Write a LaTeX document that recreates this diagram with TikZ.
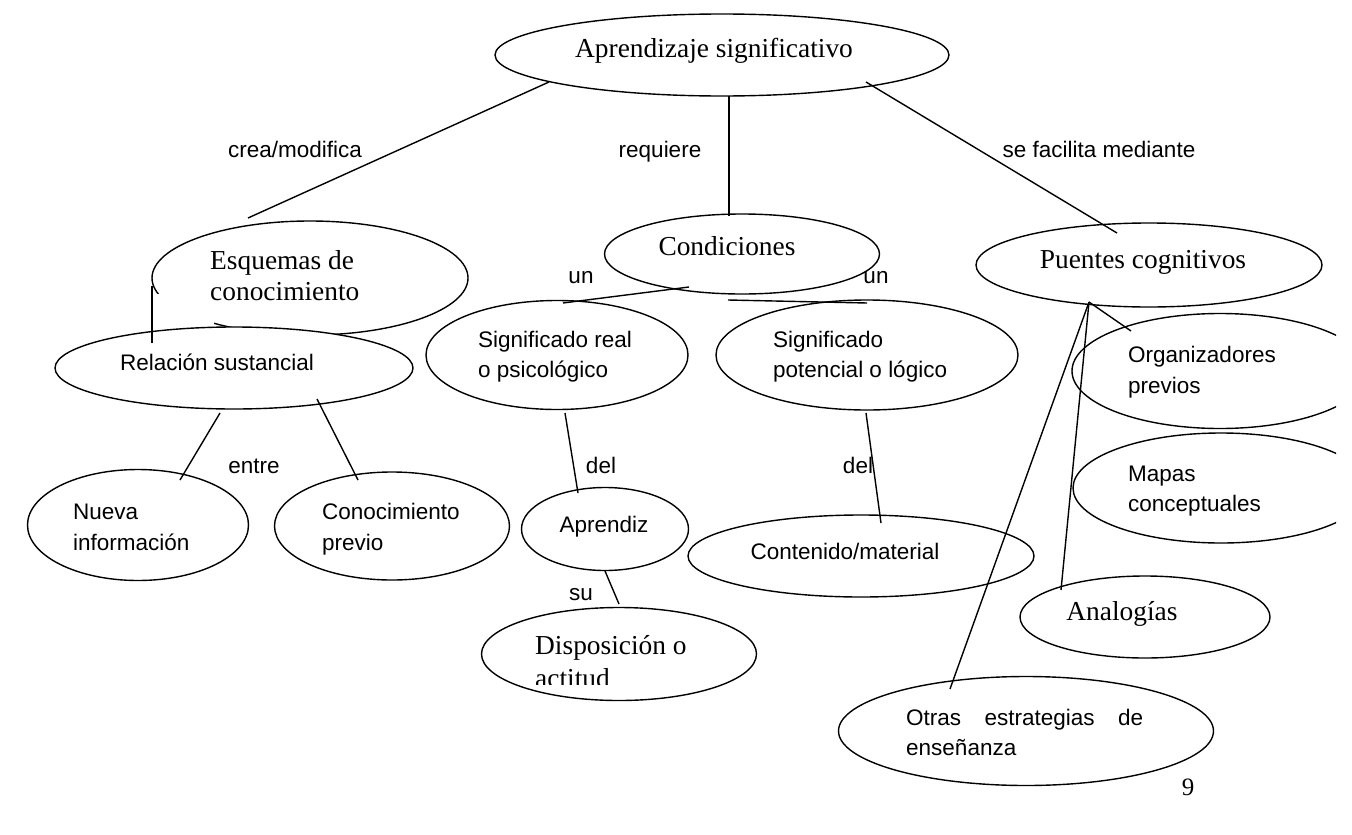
\documentclass[tikz,border=0pt]{standalone}
\usepackage{fontspec}
\setmainfont{Liberation Serif}
\setsansfont{Liberation Sans}
\usetikzlibrary{shapes.geometric}
\tikzset{
  ell/.style={draw, ellipse, line width=1.4pt, inner sep=0pt, fill=white},
  srf/.style={font=\fontsize{27.4}{31}\selectfont, inner sep=0pt},
  sns/.style={font=\sffamily\fontsize{22.5}{31}\selectfont, inner sep=0pt},
  conn/.style={line width=1.4pt},
  vconn/.style={line width=1.9pt},
}
\begin{document}
\begin{tikzpicture}[x=1pt,y=-1pt]
\useasboundingbox (0,0) rectangle (1352,835);
\clip (0,0) rectangle (1352,835);
\fill[white] (0,0) rectangle (1352,835);

% ellipses
\node[ell, minimum width=454pt, minimum height=82pt] (apr) at (722,55) {};
\node[ell, minimum width=316pt, minimum height=114pt] (esq) at (310,278) {};
\fill[white] (155,294) rectangle (214,326);
\node[ell, minimum width=358pt, minimum height=82pt] (rel) at (234,368) {};
\node[ell, minimum width=275pt, minimum height=80pt] (cond) at (742,254) {};
\node[ell, minimum width=346pt, minimum height=84pt] (pue) at (1149,265) {};
\node[ell, minimum width=262pt, minimum height=109pt] (sreal) at (557,355) {};
\node[ell, minimum width=302pt, minimum height=110pt] (spot) at (867,355) {};
\begin{scope}
  \clip (0,0) rectangle (1336,835);
  \node[ell, minimum width=296pt, minimum height=115pt] (org) at (1220,371) {};
  \node[ell, minimum width=296pt, minimum height=110pt] (mapas) at (1221,488) {};
\end{scope}
\node[ell, minimum width=250pt, minimum height=82pt] (anal) at (1145,617) {};
\node[ell, minimum width=375pt, minimum height=109pt] (otras) at (1026,731) {};
\node[ell, minimum width=221pt, minimum height=111pt] (nueva) at (138,525) {};
\node[ell, minimum width=235pt, minimum height=108pt] (conoc) at (392,526) {};
\node[ell, minimum width=167pt, minimum height=83pt] (aprz) at (605,529) {};
\node[ell, minimum width=346pt, minimum height=82pt] (cont) at (861,556) {};
\node[ell, minimum width=275pt, minimum height=93pt] (disp) at (619,654) {};

% connector end points
\coordinate (c1a) at (549,82);   \coordinate (c1b) at (248,218);
\coordinate (c2a) at (729,96);   \coordinate (c2b) at (729,216);
\coordinate (c3a) at (866,82);   \coordinate (c3b) at (1117,233);
\coordinate (c4a) at (152,286);  \coordinate (c4b) at (152,343);
\coordinate (c5a) at (689,287);  \coordinate (c5b) at (563,303);
\coordinate (c6a) at (728,300);  \coordinate (c6b) at (867,303);
\coordinate (c7a) at (565,413);  \coordinate (c7b) at (578,493);
\coordinate (c8a) at (605,571);  \coordinate (c8b) at (619,604);
\coordinate (c9a) at (866,413);  \coordinate (c9b) at (881,523);
\coordinate (c10a) at (220,413); \coordinate (c10b) at (180,480);
\coordinate (c11a) at (317,399); \coordinate (c11b) at (358,480);
\coordinate (pap) at (1089,302);
\coordinate (c12b) at (1131,331);
\coordinate (c13b) at (1061,590);
\coordinate (c14b) at (950,689);

\draw[conn] (c1a) -- (c1b);
\draw[vconn] (c2a) -- (c2b);
\draw[conn] (c3a) -- (c3b);
\draw[vconn] (c4a) -- (c4b);
\draw[conn] (c5a) -- (c5b);
\draw[conn] (c6a) -- (c6b);
\draw[conn] (c7a) -- (c7b);
\draw[conn] (c8a) -- (c8b);
\draw[conn] (c9a) -- (c9b);
\draw[conn] (c10a) -- (c10b);
\draw[conn] (c11a) -- (c11b);
\draw[conn] (pap) -- (c12b);
\draw[conn] (pap) -- (c13b);
\draw[conn] (pap) -- (c14b);

% texts in nodes
\node[srf, anchor=base] (tapr) at (714,57) {Aprendizaje significativo};
\node[srf, anchor=base west] (tesq1) at (210,269) {Esquemas de};
\node[srf, anchor=base west] (tesq2) at (210,300) {conocimiento};
\node[srf, anchor=base] (tcond) at (727,255) {Condiciones};
\node[srf, anchor=base] (tpue) at (1143,268) {Puentes cognitivos};
\node[sns, anchor=base west] (trel) at (120,370) {Relación sustancial};
\node[sns, anchor=base west] (tsr1) at (478,347) {Significado real};
\node[sns, anchor=base west] (tsr2) at (478,377) {o psicológico};
\node[sns, anchor=base west] (tsp1) at (773,347) {Significado};
\node[sns, anchor=base west] (tsp2) at (773,377) {potencial o lógico};
\node[sns, anchor=base west] (torg1) at (1128,362) {Organizadores};
\node[sns, anchor=base west] (torg2) at (1128,393) {previos};
\node[sns, anchor=base west] (tmap1) at (1128,481) {Mapas};
\node[sns, anchor=base west] (tmap2) at (1128,511) {conceptuales};
\node[srf, anchor=base] (tanal) at (1122,620) {Analogías};
\node[sns, anchor=base west] (totr1) at (906,725) {\makebox[237pt][s]{Otras\hfill estrategias\hfill de}};
\node[sns, anchor=base west] (totr2) at (906,755) {enseñanza};
\node[sns, anchor=base west] (tnue1) at (73,519) {Nueva};
\node[sns, anchor=base west] (tnue2) at (73,550) {información};
\node[sns, anchor=base west] (tcon1) at (322,519) {Conocimiento};
\node[sns, anchor=base west] (tcon2) at (322,550) {previo};
\node[sns, anchor=base] (taprz) at (604,532) {Aprendiz};
\node[sns, anchor=base] (tcont) at (845,559) {Contenido/material};
\node[srf, anchor=base west] (tdis1) at (535,654) {Disposición o};
\begin{scope}
  \clip (0,0) rectangle (1352,684);
  \node[srf, anchor=base west] (tdis2) at (535,687) {actitud};
\end{scope}

% connector labels
\node[sns, anchor=base] (lcrea) at (295,157) {crea/modifica};
\node[sns, anchor=base] (lreq) at (660,157) {requiere};
\node[sns, anchor=base] (lfac) at (1099,157) {se facilita mediante};
\node[sns, anchor=base] (lun1) at (581,283) {un};
\node[sns, anchor=base] (lun2) at (876,283) {un};
\node[sns, anchor=base] (lentre) at (254,473) {entre};
\node[sns, anchor=base] (ldel1) at (601,473) {del};
\node[sns, anchor=base] (ldel2) at (858,473) {del};
\node[sns, anchor=base] (lsu) at (581,600) {su};

% page number
\node[font=\fontsize{25}{30}\selectfont, inner sep=0pt, anchor=base] (pnum) at (1188,795) {9};
\end{tikzpicture}
\end{document}
